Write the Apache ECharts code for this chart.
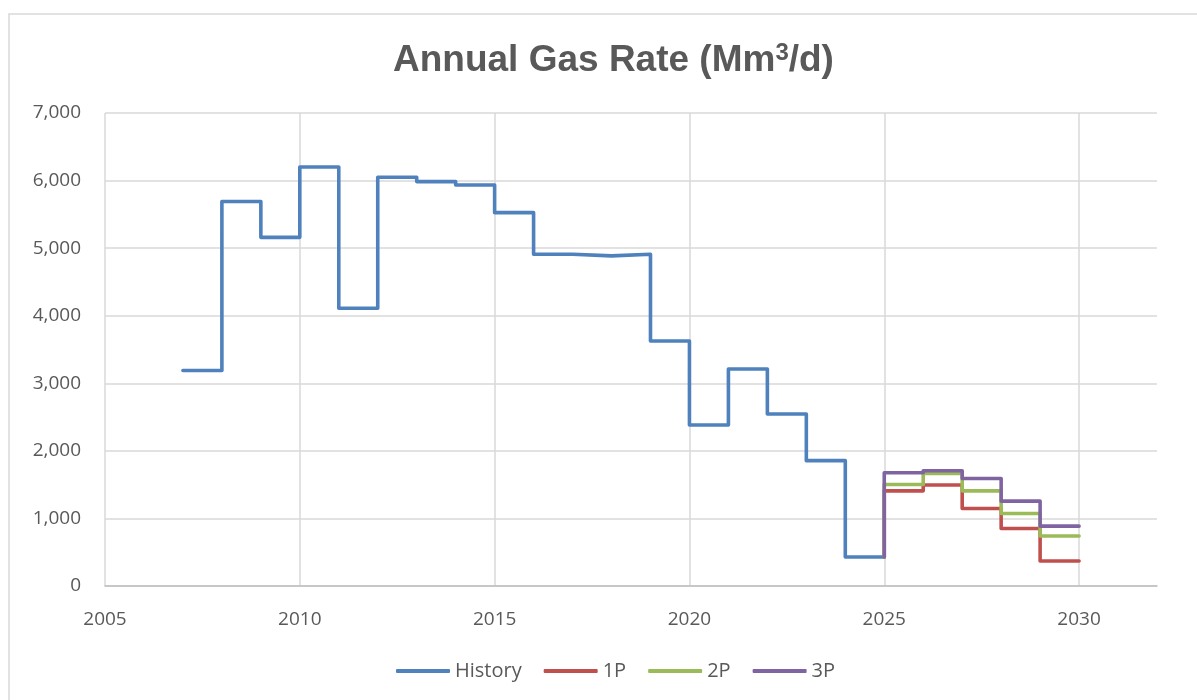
<!DOCTYPE html>
<html>
<head>
<meta charset="utf-8">
<script src="https://cdn.jsdelivr.net/npm/echarts@6/dist/echarts.min.js"></script>
<style>
  html, body { margin: 0; padding: 0; background: #fff; }
  #chart { width: 1197px; height: 700px; }
</style>
</head>
<body>
<div id="chart"></div>
<script>
// history: rate for each year, held until the next year
const historyYears = [2007, 2008, 2009, 2010, 2011, 2012, 2013, 2014, 2015, 2016, 2017, 2018, 2019, 2020, 2021, 2022, 2023, 2024]
const historyRate = [3190, 5690, 5160, 6200, 4110, 6050, 5985, 5935, 5525, 4910, 4885, 4910, 3626, 2383, 3212, 2546, 1855, 430]

// forecast cases
const forecastYears = [2025, 2026, 2027, 2028, 2029]
const rate1P = [1408, 1494, 1148, 852, 370]
const rate2P = [1503, 1666, 1408, 1074, 740]
const rate3P = [1675, 1705, 1592, 1256, 886]

const font = '"Liberation Sans", Arial, sans-serif'
const labelFont = '"Open Sans", "Liberation Sans", sans-serif'

// each value runs from its year to the next one
const stepPoints = (years, vals, start) => {
  let pts = []
  if (start !== undefined) pts.push([years[0], start])
  years.forEach((y, i) => pts.push([y, vals[i]]))
  let last = years.length - 1
  pts.push([years[last] + 1, vals[last]])
  return pts
}

const histPts = stepPoints(historyYears, historyRate)
const joinValue = historyRate[historyRate.length - 1]

const line = (name, color, data) => ({
  name: name,
  type: 'line',
  step: 'end',
  data: data,
  showSymbol: false,
  symbol: 'none',
  lineStyle: { color: color, width: 3.6, cap: 'round', join: 'round' },
  itemStyle: { color: color },
  animation: false
})

let chart = echarts.init(document.getElementById('chart'))

chart.setOption({
  backgroundColor: '#fff',
  title: {
    text: '{t|Annual Gas Rate (Mm}{s|3}{t|/d)}',
    left: 388,
    top: 30,
    textStyle: {
      rich: {
        t: { fontFamily: font, fontWeight: 'bold', fontSize: 37, color: '#595959', lineHeight: 44, verticalAlign: 'bottom' },
        s: { fontFamily: font, fontWeight: 'bold', fontSize: 24, color: '#595959', lineHeight: 44, verticalAlign: 'bottom', padding: [0, 0, 14, 0] }
      }
    }
  },
  graphic: [{
    type: 'rect',
    shape: { x: 9, y: 14, width: 1300, height: 800 },
    style: { fill: 'none', stroke: '#d9d9d9', lineWidth: 1.5 },
    silent: true,
    z: -10
  }],
  legend: {
    bottom: 14,
    left: 391,
    itemWidth: 54,
    itemHeight: 4,
    itemGap: 22,
    icon: 'roundRect',
    textStyle: { fontFamily: labelFont, fontSize: 20, color: '#595959' },
    data: ['History', '1P', '2P', '3P']
  },
  grid: { left: 105, right: 40, top: 113, bottom: 114 },
  xAxis: {
    type: 'value',
    min: 2005,
    max: 2032,
    interval: 5,
    axisLine: { lineStyle: { color: '#bfbfbf', width: 1.5 } },
    axisTick: { show: false },
    axisLabel: {
      showMaxLabel: false,
      margin: 24,
      fontFamily: labelFont,
      fontSize: 19,
      color: '#595959',
      formatter: v => (v % 5 === 0 ? String(v) : '')
    },
    splitLine: { show: true, showMaxLine: false, lineStyle: { color: '#d9d9d9', width: 1.5 } }
  },
  yAxis: {
    type: 'value',
    min: 0,
    max: 7000,
    interval: 1000,
    axisLine: { show: false },
    axisTick: { show: false },
    axisLabel: {
      margin: 24,
      fontFamily: labelFont,
      fontSize: 19,
      color: '#595959',
      formatter: v => v.toLocaleString('en-US')
    },
    splitLine: { lineStyle: { color: '#d9d9d9', width: 1.5 } }
  },
  series: [
    line('History', '#4f81bd', histPts),
    line('1P', '#c0504d', stepPoints(forecastYears, rate1P, joinValue)),
    line('2P', '#9bbb59', stepPoints(forecastYears, rate2P, joinValue)),
    line('3P', '#8064a2', stepPoints(forecastYears, rate3P, joinValue))
  ]
})
</script>
</body>
</html>
